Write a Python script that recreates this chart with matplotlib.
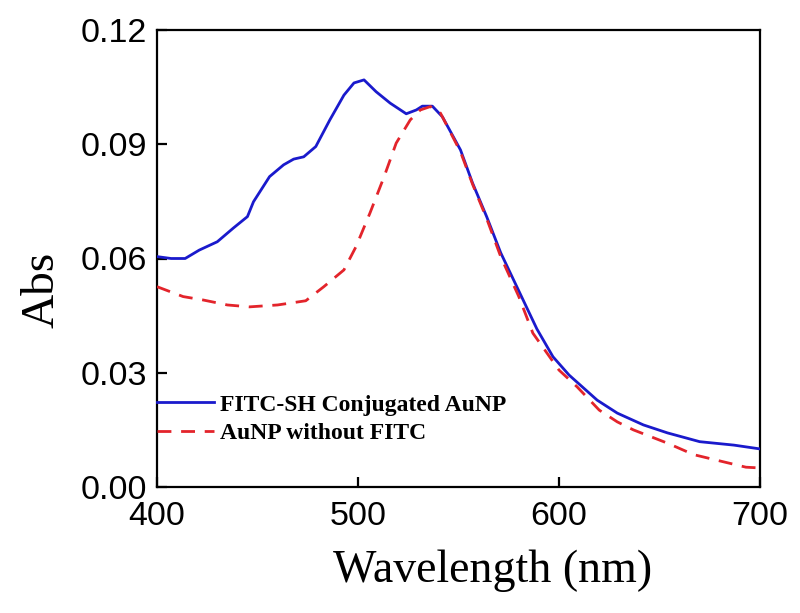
import matplotlib
matplotlib.use("Agg")
import matplotlib.pyplot as plt

# Data
wl_blue = [400, 407, 414, 421, 430, 438, 445, 448, 456, 463, 468, 473, 479, 486, 493,
           498, 503, 509, 516, 524, 529, 532, 537, 542, 551, 557, 564, 571, 580, 589,
           597, 605, 619, 629, 642, 654, 670, 687, 700]
abs_blue = [0.0605, 0.0600, 0.0600, 0.0622, 0.0644, 0.0680, 0.0710, 0.0749, 0.0815,
            0.0846, 0.0861, 0.0867, 0.0894, 0.0964, 0.1029, 0.1061, 0.1069, 0.1038,
            0.1008, 0.0980, 0.0990, 0.1000, 0.1000, 0.0972, 0.0885, 0.0798, 0.0710,
            0.0615, 0.0515, 0.0415, 0.0342, 0.0294, 0.0228, 0.0194, 0.0163, 0.0142,
            0.0119, 0.0110, 0.0100]

wl_red = [400, 413, 423, 435, 446, 460, 474, 483, 493, 499, 506, 513, 519, 526, 531,
          536, 541, 551, 557, 564, 571, 580, 587, 600, 609, 620, 629, 637, 654, 667,
          678, 693, 700]
abs_red = [0.0526, 0.0500, 0.0491, 0.0478, 0.0473, 0.0478, 0.0489, 0.0526, 0.0570,
           0.0631, 0.0720, 0.0815, 0.0903, 0.0964, 0.0990, 0.0999, 0.0982, 0.0880,
           0.0795, 0.0705, 0.0605, 0.0500, 0.0404, 0.0307, 0.0263, 0.0202, 0.0171,
           0.0150, 0.0115, 0.0085, 0.0071, 0.0052, 0.0050]

label_blue = "FITC-SH Conjugated AuNP"
label_red = "AuNP without FITC"
x_ticks = [400, 500, 600, 700]
y_ticks = [0.00, 0.03, 0.06, 0.09, 0.12]
y_tick_labels = ["0.00", "0.03", "0.06", "0.09", "0.12"]

fig = plt.figure(figsize=(8, 6.13), dpi=100)
ax = fig.add_axes([157 / 800, (613 - 487) / 613, (760 - 157) / 800, (487 - 30) / 613])

ax.plot(wl_blue, abs_blue, color="#1a1acc", lw=2.0, label=label_blue, zorder=3)
ax.plot(wl_red, abs_red, color="#e3242b", lw=2.0, ls=(0, (5, 3.5)), label=label_red, zorder=4)

ax.set_xlim(400, 700)
ax.set_ylim(0, 0.12)
ax.set_xticks(x_ticks)
ax.set_yticks(y_ticks)
ax.set_yticklabels(y_tick_labels)

for s in ax.spines.values():
    s.set_linewidth(1.6)
ax.tick_params(direction="in", length=7, width=1.6, top=False, right=False,
               labelsize=24.5)
ax.tick_params(axis="x", pad=10)
ax.tick_params(axis="y", pad=7)
for lab in ax.get_xticklabels() + ax.get_yticklabels():
    lab.set_fontfamily("Liberation Sans")

ax.set_xlabel("Wavelength (nm)", fontfamily="Liberation Serif", fontsize=33)
ax.xaxis.set_label_coords((493 - 157) / 603, (487 - 582) / 457)
ax.xaxis.label.set_va("baseline")
ax.set_ylabel("Abs", fontfamily="Liberation Serif", fontsize=34)
ax.yaxis.set_label_coords((53 - 157) / 603, (487 - 290) / 457)
ax.yaxis.label.set_va("baseline")

leg = ax.legend(loc="upper left", bbox_to_anchor=(0.0, (487 - 394) / 457),
                frameon=False, borderpad=0, borderaxespad=0, handlelength=2.4,
                handletextpad=0.25, labelspacing=0.3,
                prop={"family": "Liberation Serif", "weight": "bold", "size": 17})

fig.savefig("out.png", dpi=100)
